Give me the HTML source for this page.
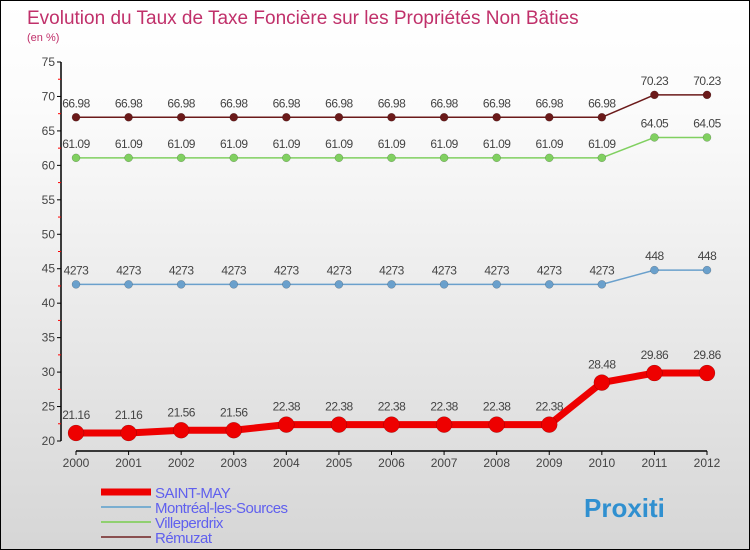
<!DOCTYPE html>
<html><head><meta charset="utf-8"><style>
body{margin:0}
#c{width:748px;height:548px;border:1px solid #000;background:linear-gradient(#fff,#fbfbfb 20%,#d6d6d6);position:relative;overflow:hidden;font-family:"Liberation Sans",sans-serif}
svg{position:absolute;left:0;top:0}
</style></head><body>
<div id="c">
<svg id="s" width="750" height="550">
<text x="26" y="23" font-size="19" fill="#c0306a">Evolution du Taux de Taxe Foncière sur les Propriétés Non Bâties</text>
<text x="26" y="40" font-size="11" fill="#c0306a">(en %)</text>
</svg>
</div>
<script>
const years=["2000","2001","2002","2003","2004","2005","2006","2007","2008","2009","2010","2011","2012"];
const yTicks=[20,25,30,35,40,45,50,55,60,65,70,75];
const saintMay=[21.16,21.16,21.56,21.56,22.38,22.38,22.38,22.38,22.38,22.38,28.48,29.86,29.86];
const montreal=[42.73,42.73,42.73,42.73,42.73,42.73,42.73,42.73,42.73,42.73,42.73,44.8,44.8];
const villeperdrix=[61.09,61.09,61.09,61.09,61.09,61.09,61.09,61.09,61.09,61.09,61.09,64.05,64.05];
const remuzat=[66.98,66.98,66.98,66.98,66.98,66.98,66.98,66.98,66.98,66.98,66.98,70.23,70.23];
const seriesNames=["SAINT-MAY","Montréal-les-Sources","Villeperdrix","Rémuzat"];
const s=document.getElementById('s');const NS="http://www.w3.org/2000/svg";
function X(i){return 75+i*(706-75)/12}
function Y(v){return 440-(v-20)*(440-61)/55}
function el(t,a,p){const e=document.createElementNS(NS,t);for(const k in a)e.setAttribute(k,a[k]);(p||s).appendChild(e);return e}
let e=el('line',{x1:60,y1:61,x2:60,y2:440,stroke:'#000','stroke-width':1.5});

e=el('line',{x1:75,y1:450,x2:706,y2:450,stroke:'#000','stroke-width':1.5});

yTicks.forEach(v=>{el('line',{x1:56,y1:Y(v),x2:60,y2:Y(v),stroke:'#000'});
 if(v<75)el('line',{x1:57,y1:Y(v+2.5),x2:60,y2:Y(v+2.5),stroke:'#f00'});
 const t=el('text',{x:54,y:Y(v)+4,'font-size':12,fill:'#444','text-anchor':'end'});t.textContent=v;
 });
years.forEach((y,i)=>{el('line',{x1:X(i),y1:450,x2:X(i),y2:454,stroke:'#000'});
 const t=el('text',{x:X(i),y:466,'font-size':12,fill:'#444','text-anchor':'middle'});t.textContent=y;
 });
function series(d,col,w,r,name,fmt){
 const g=el('g',{});
 el('polyline',{points:d.map((v,i)=>X(i)+','+Y(v)).join(' '),fill:'none',stroke:col,'stroke-width':w,'stroke-linejoin':'round'},g);
 d.forEach((v,i)=>{const c=el('circle',{cx:X(i),cy:Y(v),r:r,fill:col,stroke:'rgba(0,0,0,0.3)','stroke-width':0.5},g);
  
  const t=el('text',{x:X(i),y:Y(v)-(r+6),'font-size':12,fill:'#444','text-anchor':'middle','letter-spacing':'-0.5'},g);t.textContent=fmt(v);
  });}
const f=v=>String(v).replace('.','');
series(remuzat,'#6b1a1a',1.5,4,'series-remuzat',v=>String(v));
series(villeperdrix,'#80d060',1.5,4,'series-villeperdrix',v=>String(v));
series(montreal,'#6aa0cc',1.5,4,'series-montreal',f);
series(saintMay,'#ee0000',7,8,'series-saint-may',v=>String(v));
const lc=['#ee0000','#7aaed0','#90d070','#8a5050'],lw=[7,2,2,2];
seriesNames.forEach((n,i)=>{const y=491+i*15;
 const l=el('line',{x1:100,y1:y,x2:150,y2:y,stroke:lc[i],'stroke-width':lw[i]});
 
 const t=el('text',{x:154,y:y+6,'font-size':15,fill:'#6060ee','letter-spacing':'-0.5'});t.textContent=n;
 });
const lg=el('text',{x:583,y:516,'font-size':26,'font-weight':'bold',fill:'#3090d0'});lg.textContent='Proxiti';

</script>
</body></html>
